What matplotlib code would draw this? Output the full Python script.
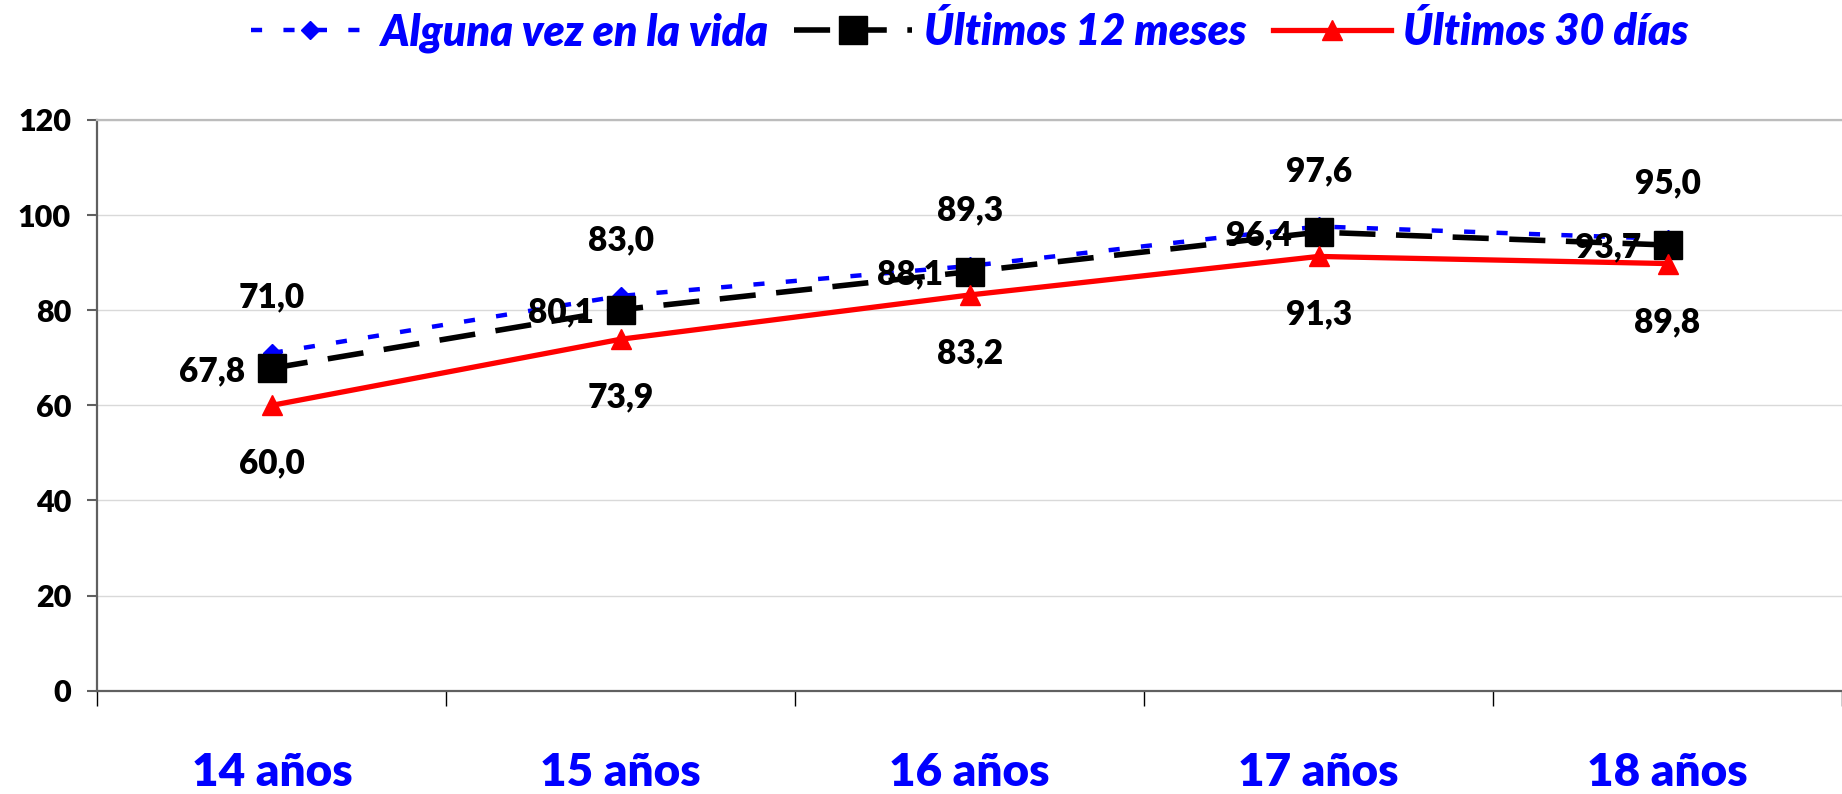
import matplotlib
matplotlib.use("Agg")
import matplotlib.pyplot as plt

# data
categorias = ["14 años", "15 años", "16 años", "17 años", "18 años"]
alguna_vez = [71.0, 83.0, 89.3, 97.6, 95.0]
ultimos_12 = [67.8, 80.1, 88.1, 96.4, 93.7]
ultimos_30 = [60.0, 73.9, 83.2, 91.3, 89.8]

plt.rcParams['font.family'] = ['Lato', 'DejaVu Sans']
plt.rcParams['font.weight'] = 'bold'

W = 'heavy'

fig = plt.figure(figsize=(18.42, 7.94), dpi=100)
ax = fig.add_axes([0.0529, 0.130, 0.9471, 0.719])

x = list(range(len(categorias)))

def fmt(v):
    return f"{v:.1f}".replace(".", ",")

ax.plot(x, alguna_vez, color="#0000ff", lw=3.2, dashes=(2.5, 4.8),
        marker="D", ms=9, mec="#0000ff", mfc="#0000ff", zorder=3,
        label="Alguna vez en la vida")
ax.plot(x, ultimos_12, color="black", lw=4.0, dashes=(6.5, 3.7),
        marker="s", ms=20, mec="black", mfc="black", zorder=4,
        label="Últimos 12 meses")
ax.plot(x, ultimos_30, color="#ff0000", lw=3.8,
        marker="^", ms=15, mec="#ff0000", mfc="#ff0000", zorder=5,
        label="Últimos 30 días")

# data labels
for xi, v in zip(x, alguna_vez):
    ax.annotate(fmt(v), (xi, v), xytext=(0, 40), textcoords="offset points",
                ha="center", va="center", fontsize=24, fontweight=W, zorder=6)
for xi, v in zip(x, ultimos_12):
    ax.annotate(fmt(v), (xi, v), xytext=(-43, -2), textcoords="offset points",
                ha="center", va="center", fontsize=24, fontweight=W, zorder=6)
for xi, v in zip(x, ultimos_30):
    ax.annotate(fmt(v), (xi, v), xytext=(0, -42), textcoords="offset points",
                ha="center", va="center", fontsize=24, fontweight=W, zorder=6)

ax.set_xlim(-0.5, len(categorias) - 0.5)
ax.set_ylim(0, 120)
ax.set_yticks(range(0, 121, 20))
ax.set_xticks(x)
ax.set_xticklabels(categorias, color="#0000ff", fontsize=33, fontweight=W)
ax.set_xticks([i - 0.5 for i in range(len(categorias) + 1)], minor=True)
ax.tick_params(axis="x", which="major", length=0, pad=44)
ax.tick_params(axis="x", which="minor", length=11, width=1, color="black")
ax.tick_params(axis="y", length=7, width=1.5, color="#606060", pad=12, labelsize=22)
for lab in ax.get_yticklabels():
    lab.set_fontweight(W)

ax.grid(axis="y", color="#d9d9d9", lw=1)
ax.set_axisbelow(True)
for s in ("left", "bottom"):
    ax.spines[s].set_color("#606060")
    ax.spines[s].set_linewidth(1.6)
ax.spines["top"].set_color("#bcbcbc")
ax.spines["top"].set_linewidth(1.6)
ax.spines["right"].set_visible(False)

leg = ax.legend(loc="center", bbox_to_anchor=(0.5, 1.0 + (0.96 - 0.849) / 0.719),
                ncol=3, frameon=False, handlelength=2.75, handletextpad=0.28,
                columnspacing=0.6, prop={"family": "Lato", "weight": W,
                                         "style": "italic", "size": 31})
for t in leg.get_texts():
    t.set_color("#0000ff")

fig.savefig("out.png", dpi=100)
